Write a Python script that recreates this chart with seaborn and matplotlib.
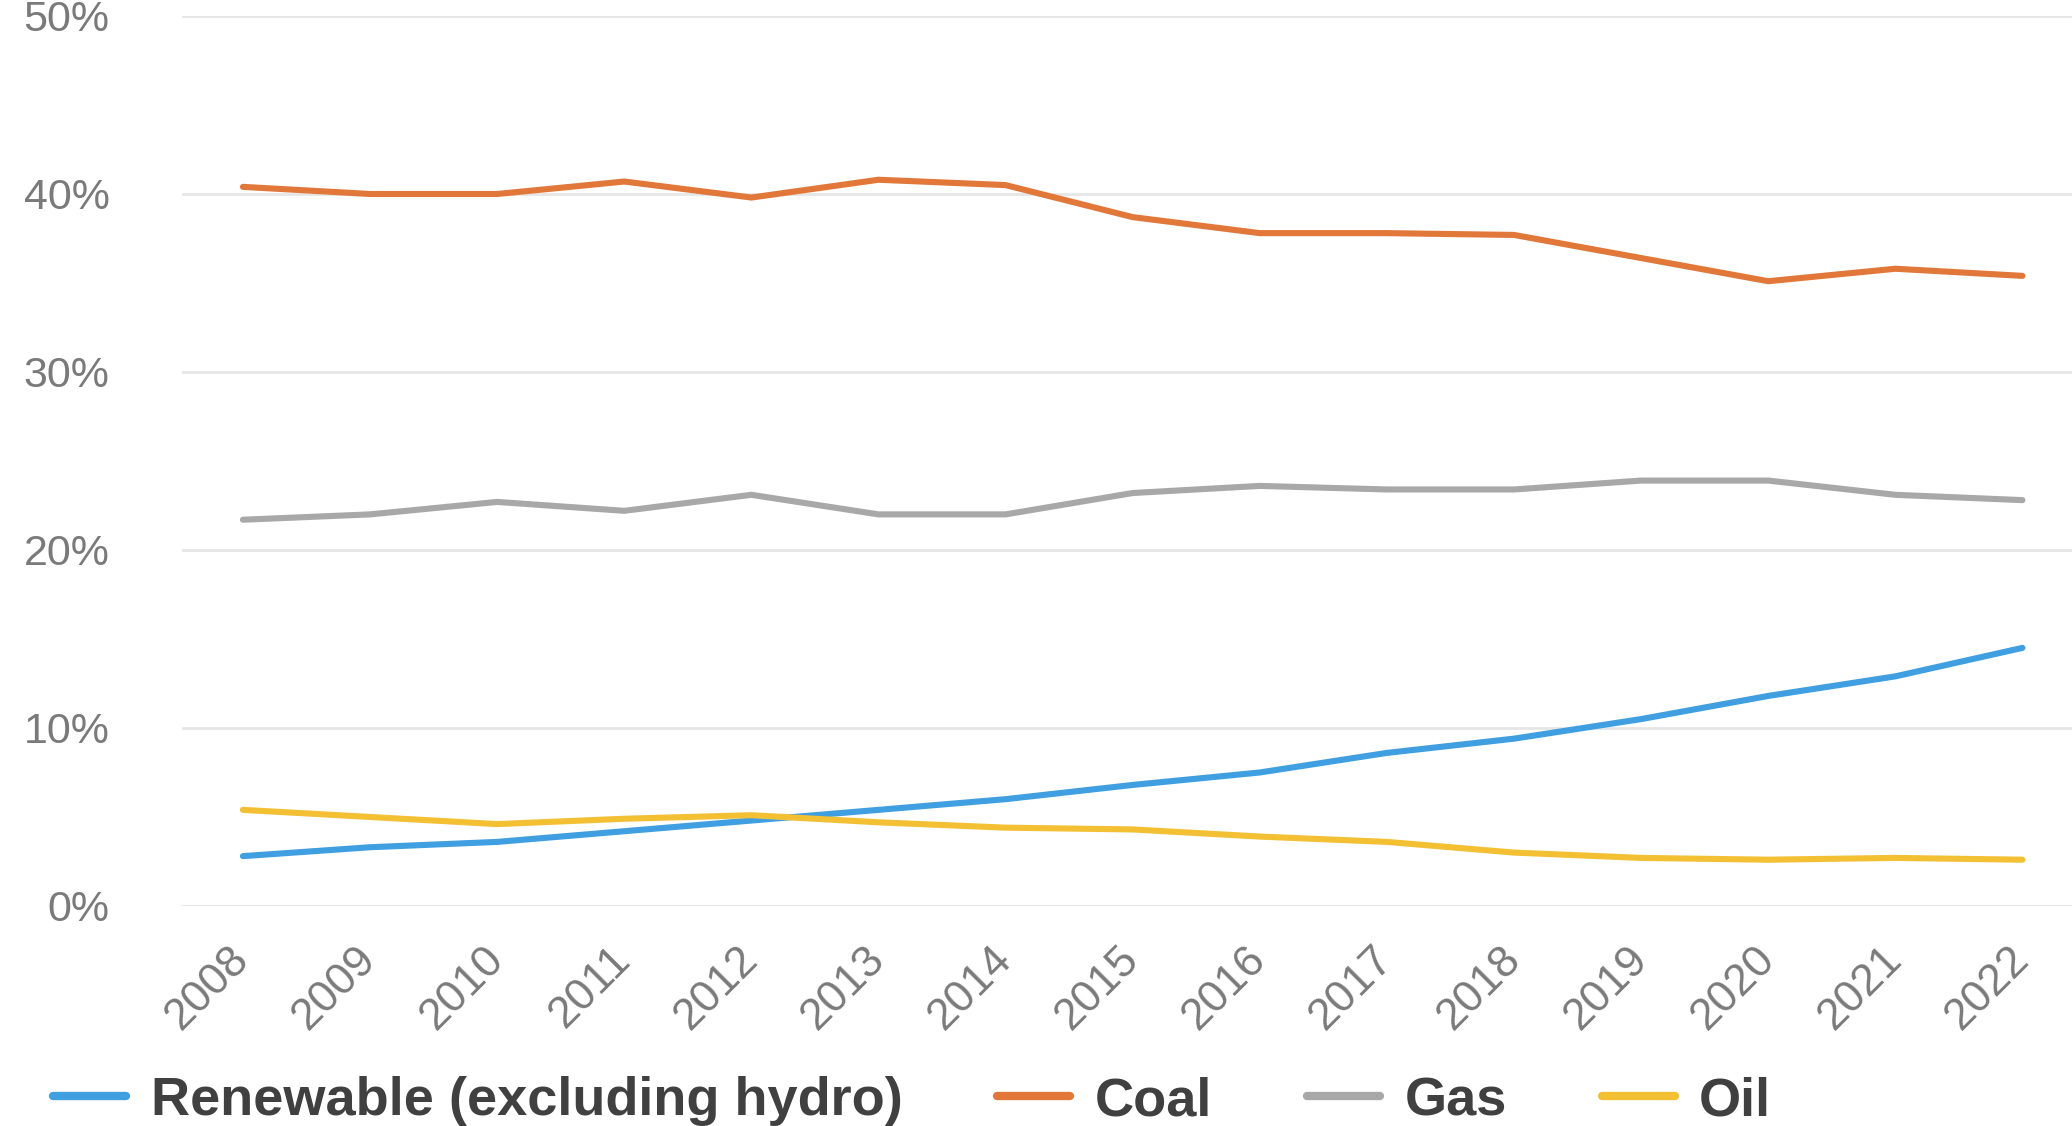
import pandas as pd
import seaborn as sns
import matplotlib.pyplot as plt
from matplotlib.ticker import FuncFormatter

years = list(range(2008, 2023))
renewable = [2.8, 3.3, 3.6, 4.2, 4.8, 5.4, 6.0, 6.8, 7.5, 8.6, 9.4, 10.5, 11.8, 12.9, 14.5]
coal = [40.4, 40.0, 40.0, 40.7, 39.8, 40.8, 40.5, 38.7, 37.8, 37.8, 37.7, 36.4, 35.1, 35.8, 35.4]
gas = [21.7, 22.0, 22.7, 22.2, 23.1, 22.0, 22.0, 23.2, 23.6, 23.4, 23.4, 23.9, 23.9, 23.1, 22.8]
oil = [5.4, 5.0, 4.6, 4.9, 5.1, 4.7, 4.4, 4.3, 3.9, 3.6, 3.0, 2.7, 2.6, 2.7, 2.6]
series_names = ["Renewable (excluding hydro)", "Coal", "Gas", "Oil"]
colors = ["#3f9fe0", "#e2773a", "#a8a8a8", "#f3bf33"]

df = pd.DataFrame({
    "year": years * 4,
    "share": renewable + coal + gas + oil,
    "source": [n for n in series_names for _ in years],
})

sns.set_style("white")
plt.rcParams["font.family"] = ["Liberation Sans", "DejaVu Sans"]

fig = plt.figure(figsize=(20.72, 11.26), dpi=100)
ax = fig.add_axes([0.0878, 0.1954, 0.9122, 0.7904])

sns.lineplot(data=df, x="year", y="share", hue="source", hue_order=series_names,
             palette=dict(zip(series_names, colors)), linewidth=4.4, ax=ax, legend=False)

ax.set_xlim(2007.52, 2022.39)
ax.set_ylim(0, 50)
ax.set_yticks([0, 10, 20, 30, 40, 50])
ax.yaxis.set_major_formatter(FuncFormatter(lambda v, p: f"{v:.0f}%"))
ax.set_xticks(years)
ax.set_xticklabels([str(y) for y in years], rotation=45, ha="right", va="center",
                   rotation_mode="anchor")
ax.tick_params(axis="y", length=0, pad=52, labelsize=31, labelcolor="#7a7a7a")
ax.tick_params(axis="x", length=0, pad=34, labelsize=32, labelcolor="#7a7a7a")
ax.grid(axis="y", color="#e6e6e6", linewidth=2)
ax.grid(axis="x", visible=False)
sns.despine(ax=ax, left=True, bottom=True)
ax.set_xlabel("")
ax.set_ylabel("")

handles = [plt.Line2D([], [], color=c, linewidth=6) for c in colors]
fig.legend(handles, series_names, loc="center left", bbox_to_anchor=(0.0256, 0.0222),
           ncol=4, frameon=False, borderpad=0, borderaxespad=0,
           handlelength=1.35, handletextpad=0.45, columnspacing=1.75,
           prop={"size": 39, "weight": "bold"}, labelcolor="#404040")

fig.savefig("out.png", dpi=100)
